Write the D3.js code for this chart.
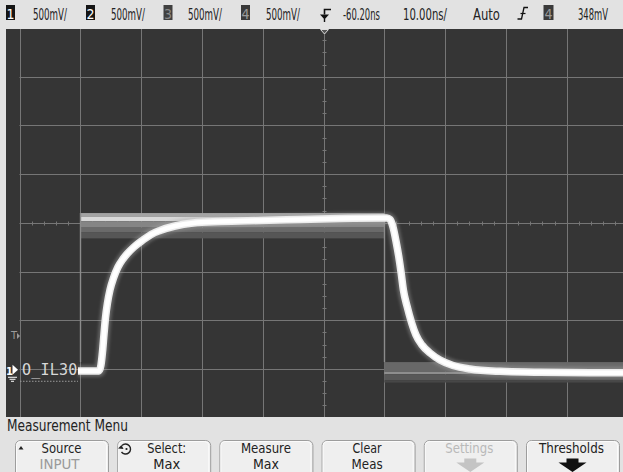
<!DOCTYPE html>
<html>
<head>
<meta charset="utf-8">
<script src="https://cdn.jsdelivr.net/npm/d3@7"></script>
<style>
  html, body { margin: 0; padding: 0; background: #e2e2e2; }
  svg { display: block; }
</style>
</head>
<body>
<svg id="scope" width="623" height="472"></svg>
<script>
// ---- Status line -------------------------------------------------------
const channels = ["1", "2", "3", "4"];
const channelScale = ["500mV/", "500mV/", "500mV/", "500mV/"];
const delayLabel = "-60.20ns";
const timebaseLabel = "10.00ns/";
const triggerMode = "Auto";
const triggerSource = "4";
const triggerLevel = "348mV";

// ---- Graticule ---------------------------------------------------------
const timeDomain = [-50, 50];       // ns across the screen
const voltDomain = [-0.45, 3.55];   // V, 500 mV/div over 8 divisions
const timeGrid = [-50, -40, -30, -20, -10, 0, 10, 20, 30, 40, 50];
const voltGrid = [-0.45, 0.05, 0.55, 1.05, 1.55, 2.05, 2.55, 3.05, 3.55];
const centreTime = 0, centreVolt = 1.55;

// ---- INPUT waveform (persistence trace): time in ns, level in V --------
const inputTime = [-40.38, -36.92, -36.6, -36.35, -36.1, -35.86, -35.53, -35.12, -34.54,
  -33.8, -32.98, -32.32, -31.17, -29.69, -28.36, -26.88, -24.42, -21.46, -17.02, -10.44,
  -3.87, 2.71, 10.44, 10.94, 11.43, 11.92, 12.38, 12.75, 13.14, 13.73, 14.51, 15.21, 16.2,
  17.52, 19.16, 21.3, 24.1, 29.03, 35.61, 43.83, 50.41];
const inputVolts = [0.028, 0.028, 0.09, 0.224, 0.408, 0.573, 0.727, 0.86, 0.983,
  1.096, 1.178, 1.23, 1.302, 1.373, 1.43, 1.471, 1.517, 1.548, 1.563, 1.574,
  1.584, 1.594, 1.599, 1.584, 1.507, 1.363, 1.202, 1.045, 0.86, 0.696, 0.521, 0.398, 0.295,
  0.213, 0.141, 0.085, 0.049, 0.025, 0.015, 0.011, 0.011];

// ---- Reference square wave: edge times (ns) and envelope levels (V) ----
const refEdges = [-40, 10, 50];
const refHigh = [1.65, 1.61, 1.565, 1.50, 1.45, 1.39];
const refLow = [0.12, 0.02, -0.005, -0.065, -0.09];

// ---- Soft keys ---------------------------------------------------------
const menuTitle = "Measurement Menu";
const softKeyTop = ["Source", "Select:", "Measure", "Clear", "Settings", "Thresholds"];
const softKeyBottom = ["INPUT", "Max", "Max", "Meas", "", ""];

const inputLabel = "O_IL30";

// ------------------------------------------------------------------------
const FONT = '"Liberation Sans Narrow", "DejaVu Sans Condensed", "Liberation Sans", sans-serif';
const svg = d3.select("#scope");
const W = 623, H = 472;

const x = d3.scaleLinear().domain(timeDomain).range([19.5, 627.5]);
const y = d3.scaleLinear().domain(voltDomain).range([417.6, 28]);
const px = v => Math.round(v) + 0.5;

// Instrument-style narrow text: anchored at (ax, ay) and squeezed
// horizontally so its advance equals `width`.
function narrowText(parent, ax, ay, width, label, size, fill, anchor) {
  const t = parent.append("text").attr("x", 0).attr("y", 0)
    .attr("text-anchor", anchor || "start")
    .style("font-family", FONT).style("font-size", size + "px")
    .attr("fill", fill).text(label);
  const natural = t.node().getComputedTextLength();
  const k = natural > 0 ? width / natural : 1;
  t.attr("transform", `translate(${ax},${ay}) scale(${k},1)`);
  return t;
}

const defs = svg.append("defs");
defs.append("clipPath").attr("id", "screenClip")
  .append("rect").attr("x", 6).attr("y", 29).attr("width", W - 6).attr("height", 388);
const glow = defs.append("filter").attr("id", "glow")
  .attr("x", "-10%").attr("y", "-10%").attr("width", "120%").attr("height", "120%");
glow.append("feGaussianBlur").attr("stdDeviation", 1.6);
const soft = defs.append("filter").attr("id", "soft")
  .attr("x", "-10%").attr("y", "-10%").attr("width", "120%").attr("height", "120%");
soft.append("feGaussianBlur").attr("stdDeviation", 0.6);

// panel background
svg.append("rect").attr("width", W).attr("height", H).attr("fill", "#e2e2e2");
svg.append("rect").attr("x", 6).attr("y", 29).attr("width", W - 6).attr("height", 388)
  .attr("fill", "#353535");

const scr = svg.append("g").attr("clip-path", "url(#screenClip)");

// graticule
const gridG = scr.append("g").attr("stroke", "#767676").attr("stroke-width", 1);
gridG.selectAll("line.v").data(timeGrid).join("line").attr("class", "v")
  .attr("x1", d => px(x(d))).attr("x2", d => px(x(d)))
  .attr("y1", y(voltDomain[0])).attr("y2", y(voltDomain[1]));
gridG.selectAll("line.h").data(voltGrid).join("line").attr("class", "h")
  .attr("x1", x(timeDomain[0])).attr("x2", W)
  .attr("y1", d => px(y(d))).attr("y2", d => px(y(d)));

// minor ticks on the centre axes
const tStep = 2, vStep = 0.125;
const minorT = d3.range(timeDomain[0], timeDomain[1] + 0.001, tStep);
const minorV = d3.range(voltDomain[0], voltDomain[1] + 0.001, vStep);
gridG.selectAll("line.mt").data(minorT).join("line").attr("class", "mt")
  .attr("x1", d => px(x(d))).attr("x2", d => px(x(d)))
  .attr("y1", px(y(centreVolt)) - 2).attr("y2", px(y(centreVolt)) + 2);
gridG.selectAll("line.mv").data(minorV).join("line").attr("class", "mv")
  .attr("y1", d => px(y(d))).attr("y2", d => px(y(d)))
  .attr("x1", px(x(centreTime)) - 2).attr("x2", px(x(centreTime)) + 2);

// reference square wave drawn as persistence bands
const highFills = ["#a3a3a3", "#d8d8d8", "#858585", "#6a6a6a", "#575757"];
const lowFills = ["#686868", "#8e8e8e", "#585858", "#474747"];
const refG = scr.append("g").attr("filter", "url(#soft)");
d3.range(refHigh.length - 1).forEach(i => {
  refG.append("rect")
    .attr("x", x(refEdges[0])).attr("width", x(refEdges[1]) - x(refEdges[0]))
    .attr("y", y(refHigh[i])).attr("height", y(refHigh[i + 1]) - y(refHigh[i]))
    .attr("fill", highFills[i]);
});
d3.range(refLow.length - 1).forEach(i => {
  refG.append("rect")
    .attr("x", x(refEdges[1])).attr("width", x(refEdges[2]) - x(refEdges[1]))
    .attr("y", y(refLow[i])).attr("height", y(refLow[i + 1]) - y(refLow[i]))
    .attr("fill", lowFills[i]);
});
refG.selectAll("line.edge").data(refEdges.slice(0, 2)).join("line").attr("class", "edge")
  .attr("x1", d => px(x(d))).attr("x2", d => px(x(d)))
  .attr("y1", y(refLow[0])).attr("y2", y(refHigh[0]))
  .attr("stroke", "#8c8c8c").attr("stroke-width", 1.4);

// INPUT trace
const pts = inputTime.map((t, i) => [t, inputVolts[i]]);
const line = d3.line().x(d => x(d[0])).y(d => y(d[1])).curve(d3.curveMonotoneX);
const trG = scr.append("g");
trG.append("path").attr("d", line(pts)).attr("fill", "none")
  .attr("stroke", "#a8a8a8").attr("stroke-width", 12).attr("stroke-opacity", 0.38)
  .attr("filter", "url(#glow)");
trG.append("path").attr("d", line(pts)).attr("fill", "none")
  .attr("stroke", "#ececec").attr("stroke-width", 7.5).attr("filter", "url(#soft)");
trG.append("path").attr("d", line(pts)).attr("fill", "none")
  .attr("stroke", "#ffffff").attr("stroke-width", 4.5);

// waveform label and channel markers at the left
const gndY = y(0);
scr.append("text").attr("x", 22).attr("y", gndY + 1.5)
  .style("font-family", '"DejaVu Sans Mono", monospace').style("font-size", "15px")
  .attr("fill", "#d8d8d8").attr("letter-spacing", 0.2).text(inputLabel);
scr.append("line").attr("x1", 20).attr("x2", 78).attr("y1", gndY + 7.5).attr("y2", gndY + 7.5)
  .attr("stroke", "#9a9a9a").attr("stroke-dasharray", "1.5,1.5");
scr.append("text").attr("x", 6).attr("y", gndY + 1).style("font-family", FONT)
  .style("font-size", "11px").style("font-weight", "bold").attr("fill", "#ffffff").text(channels[0]);
scr.append("path").attr("d", `M12.5,${gndY - 9}L18,${gndY - 4}L12.5,${gndY + 1}Z`).attr("fill", "#ffffff");
scr.append("path")
  .attr("d", `M8,${gndY + 3.5}H17M9.5,${gndY + 5.5}H15.5M11,${gndY + 7.5}H14`)
  .attr("stroke", "#ffffff").attr("stroke-width", 1);
scr.append("text").attr("x", 11).attr("y", 339).style("font-family", FONT).style("font-size", "11px")
  .attr("fill", "#9a9a9a").text("T");
scr.append("path").attr("d", "M17,333L20,336L17,339Z").attr("fill", "#9a9a9a");

// trigger position marker at the top of the screen
const cx = px(x(centreTime));
svg.append("path").attr("d", `M${cx - 4},29.5L${cx + 4},29.5L${cx},34Z`)
  .attr("fill", "#555").attr("stroke", "#dddddd").attr("stroke-width", 1);

// ---- status line -------------------------------------------------------
const bar = svg.append("g");
const base = 19.5;
const chanBox = [6, 86, 163.5, 241];
const chanText = [33, 111, 188, 266];
const boxFill = ["#151515", "#151515", "#404040", "#3a3a3a"];
const digitFill = ["#ffffff", "#ffffff", "#8a8a8a", "#9a9a9a"];
channels.forEach((c, i) => {
  bar.append("rect").attr("x", chanBox[i]).attr("y", 5).attr("width", 9).attr("height", 15)
    .attr("fill", boxFill[i]);
  bar.append("text").attr("x", chanBox[i] + 4.5).attr("y", 18.5).attr("text-anchor", "middle")
    .style("font-family", FONT).style("font-size", "14px").attr("fill", digitFill[i]).text(c);
  narrowText(bar, chanText[i], base, 34, channelScale[i], 16, "#222");
});
// delay icon
bar.append("path").attr("d", "M331,9.5H324.5V14.5").attr("fill", "none")
  .attr("stroke", "#111").attr("stroke-width", 1.6);
bar.append("path").attr("d", "M320,14.5H329L324.5,19.5Z").attr("fill", "#111");
bar.append("path").attr("d", "M324.5,19V22").attr("stroke", "#111").attr("stroke-width", 1.4);
narrowText(bar, 343, base, 37, delayLabel, 16, "#222");
narrowText(bar, 403, base, 44, timebaseLabel, 16, "#222");
narrowText(bar, 473, base, 27, triggerMode, 16, "#222");
// rising-edge trigger icon
bar.append("path").attr("d", "M517.5,19H521.5L524,7.5H528").attr("fill", "none")
  .attr("stroke", "#111").attr("stroke-width", 1.3);
bar.append("path").attr("d", "M520.5,13.5H525.5").attr("stroke", "#111").attr("stroke-width", 1.2);
bar.append("rect").attr("x", 543.5).attr("y", 5).attr("width", 10).attr("height", 15).attr("fill", "#3a3a3a");
bar.append("text").attr("x", 548.5).attr("y", 18.5).attr("text-anchor", "middle")
  .style("font-family", FONT).style("font-size", "14px").attr("fill", "#9a9a9a").text(triggerSource);
narrowText(bar, 578, base, 30, triggerLevel, 16, "#222");

// ---- soft-key menu -----------------------------------------------------
const menu = svg.append("g");
narrowText(menu, 7, 431, 121, menuTitle, 16, "#222");
const keyW = 93;
const topWidth = [40, 39, 50, 29, 48, 65];
const botWidth = [40, 27, 26, 31, 0, 0];
const topShift = [0, 3, 0, -1, -1, -1];
softKeyTop.forEach((label, i) => {
  const left = 15 + i * 102.2, mid = left + keyW / 2;
  menu.append("rect").attr("x", left + 0.5).attr("y", 440.5).attr("width", keyW).attr("height", 40)
    .attr("rx", 5).attr("fill", "#efefef").attr("stroke", "#9d9d9d").attr("stroke-width", 1);
  menu.append("rect").attr("x", left + 1.5).attr("y", 441.5).attr("width", keyW - 3).attr("height", 38)
    .attr("rx", 4).attr("fill", "none").attr("stroke", "#fbfbfb").attr("stroke-width", 1);
  const dim = i === 4;
  narrowText(menu, mid + topShift[i], 452.5, topWidth[i], label, 14,
    dim ? "#b9b9b9" : "#222", "middle");
  if (softKeyBottom[i]) {
    narrowText(menu, mid + topShift[i] - (i === 0 ? 2 : 0), 469, botWidth[i], softKeyBottom[i], 14,
      i === 0 ? "#9a9a9a" : "#222", "middle");
  }
  if (i >= 4) {
    const c = i === 4 ? "#c4c4c4" : "#111";
    menu.append("path")
      .attr("d", `M${mid - 6},458.5H${mid + 6}V462.5H${mid + 14}L${mid},472L${mid - 14},462.5H${mid - 6}Z`)
      .attr("fill", c);
  }
});
// key 1: up marker, key 2: rotary knob symbol
menu.append("path").attr("d", "M18.5,449.5L21,446L23.5,449.5Z").attr("fill", "#222");
menu.append("path").attr("d", "M122,445.5A5,5 0 1 1 121.5,452").attr("fill", "none")
  .attr("stroke", "#222").attr("stroke-width", 1.4);
menu.append("path").attr("d", "M118,448.5L121.5,445L123.5,449Z").attr("fill", "#222");
menu.append("circle").attr("cx", 126.5).attr("cy", 449).attr("r", 1.1).attr("fill", "#222");
</script>
</body>
</html>
